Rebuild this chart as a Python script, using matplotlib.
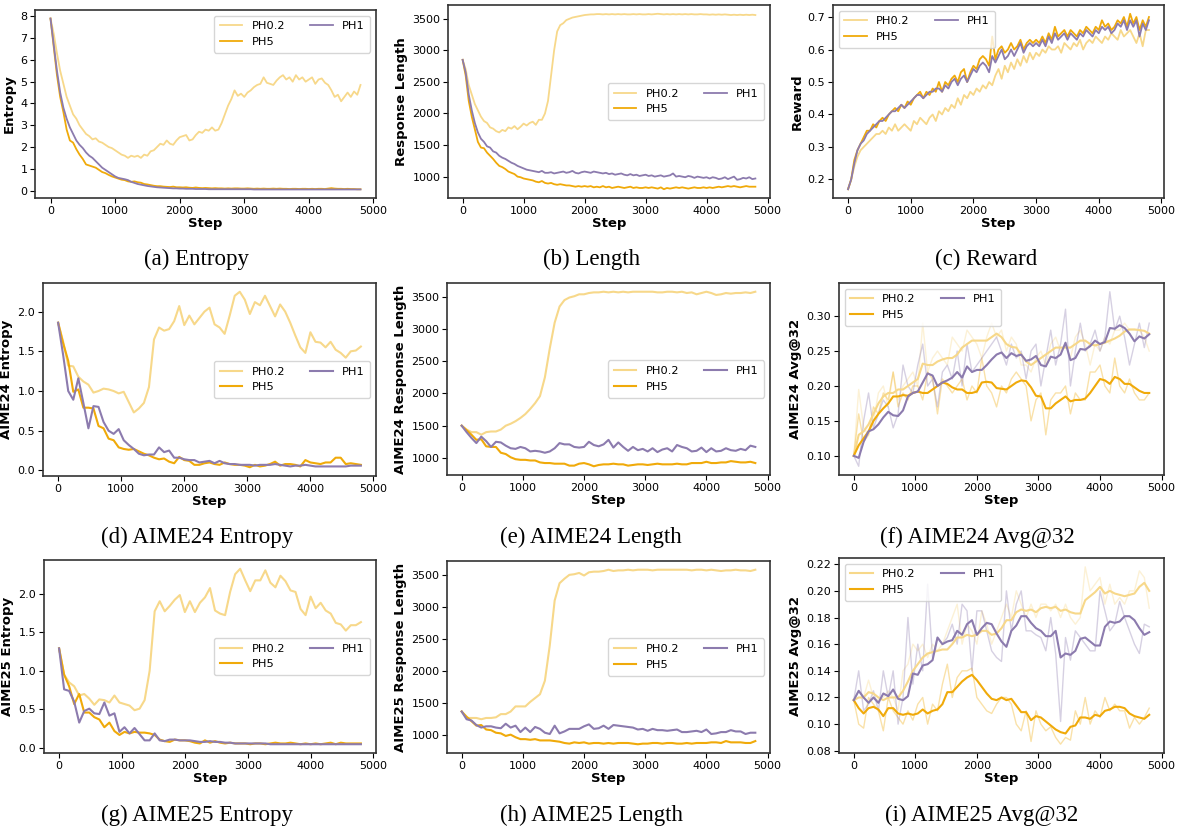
import numpy as np
import matplotlib
matplotlib.use("Agg")
import matplotlib.pyplot as plt

# training curves are logged every 50 steps, eval curves every 80 steps
train_steps = np.arange(0, 4801, 50)
eval_steps = np.arange(0, 4801, 80)

labels = ["PH0.2", "PH5", "PH1"]
colors = ["#F7D88A", "#F0AA0A", "#8C7BAE"]

# (a) Entropy
ent_ph02 = [7.9, 7.2, 6.3, 5.5, 4.9, 4.3, 3.9, 3.5, 3.3, 3.0,
            2.8, 2.6, 2.5, 2.35, 2.4, 2.25, 2.2, 2.1, 2.0, 1.95,
            1.85, 1.75, 1.65, 1.6, 1.5, 1.6, 1.55, 1.6, 1.5, 1.65,
            1.6, 1.8, 1.85, 2.0, 2.15, 2.1, 2.3, 2.15, 2.1, 2.3,
            2.45, 2.5, 2.55, 2.3, 2.35, 2.55, 2.7, 2.65, 2.8, 2.75,
            2.9, 2.75, 2.8, 3.1, 3.5, 3.9, 4.2, 4.6, 4.35, 4.45,
            4.3, 4.5, 4.6, 4.75, 4.85, 4.9, 5.2, 4.95, 4.9, 4.85,
            5.05, 5.2, 5.3, 5.1, 5.2, 5.0, 5.3, 5.1, 5.2, 5.0,
            5.1, 5.2, 4.9, 5.1, 5.15, 4.95, 4.85, 4.6, 4.3, 4.4,
            4.1, 4.3, 4.5, 4.3, 4.55, 4.4, 4.85]
ent_ph5 = [7.9, 6.6, 5.3, 4.3, 3.6, 2.8, 2.3, 2.2, 1.9, 1.65,
           1.45, 1.2, 1.15, 1.1, 1.05, 0.95, 0.85, 0.8, 0.72, 0.65,
           0.6, 0.55, 0.5, 0.48, 0.42, 0.4, 0.42, 0.38, 0.36, 0.3,
           0.28, 0.25, 0.22, 0.2, 0.2, 0.18, 0.17, 0.16, 0.18, 0.15,
           0.15, 0.14, 0.15, 0.13, 0.12, 0.14, 0.12, 0.11, 0.12, 0.11,
           0.1, 0.11, 0.1, 0.1, 0.09, 0.1, 0.09, 0.1, 0.1, 0.09,
           0.09, 0.1, 0.09, 0.08, 0.09, 0.08, 0.09, 0.08, 0.08, 0.09,
           0.08, 0.09, 0.08, 0.08, 0.07, 0.08, 0.08, 0.07, 0.08, 0.08,
           0.07, 0.08, 0.07, 0.08, 0.08, 0.07, 0.09, 0.11, 0.09, 0.08,
           0.08, 0.07, 0.08, 0.07, 0.07, 0.06, 0.06]
ent_ph1 = [7.9, 6.7, 5.5, 4.5, 3.8, 3.3, 2.9, 2.6, 2.3, 2.1,
           1.95, 1.75, 1.6, 1.5, 1.35, 1.2, 1.05, 0.95, 0.85, 0.75,
           0.65, 0.58, 0.55, 0.52, 0.48, 0.4, 0.35, 0.3, 0.27, 0.24,
           0.21, 0.19, 0.17, 0.15, 0.14, 0.13, 0.12, 0.11, 0.1, 0.1,
           0.09, 0.09, 0.08, 0.08, 0.08, 0.07, 0.07, 0.07, 0.07, 0.06,
           0.06, 0.06, 0.06, 0.06, 0.06, 0.06, 0.06, 0.06, 0.06, 0.06,
           0.06, 0.06, 0.06, 0.05, 0.05, 0.05, 0.05, 0.05, 0.05, 0.05,
           0.05, 0.05, 0.05, 0.05, 0.05, 0.05, 0.05, 0.05, 0.05, 0.05,
           0.05, 0.05, 0.05, 0.05, 0.05, 0.05, 0.05, 0.05, 0.05, 0.05,
           0.05, 0.05, 0.05, 0.05, 0.05, 0.05, 0.05]

# (b) Response length
len_ph02 = [2850, 2700, 2450, 2300, 2150, 2050, 1950, 1880, 1850, 1780,
            1760, 1720, 1700, 1740, 1720, 1780, 1760, 1800, 1750, 1790,
            1840, 1810, 1850, 1870, 1820, 1900, 1900, 2000, 2200, 2600,
            3000, 3300, 3400, 3430, 3480, 3500, 3520, 3530, 3540, 3550,
            3560, 3565, 3570, 3570, 3575, 3575, 3570, 3575, 3570, 3575,
            3570, 3575, 3570, 3575, 3570, 3570, 3575, 3570, 3575, 3570,
            3570, 3575, 3570, 3575, 3580, 3575, 3570, 3575, 3570, 3575,
            3570, 3575, 3570, 3575, 3570, 3575, 3570, 3570, 3575, 3570,
            3570, 3565, 3570, 3565, 3570, 3565, 3570, 3565, 3560, 3565,
            3560, 3565, 3560, 3565, 3560, 3565, 3560]
len_ph5 = [2850, 2600, 2200, 1950, 1750, 1550, 1460, 1450, 1380, 1330,
           1280, 1220, 1170, 1150, 1120, 1080, 1060, 1040, 1000, 990,
           970, 960, 950, 940, 920, 910, 930, 900, 890, 900,
           880, 870, 880, 870, 860, 860, 850, 840, 850, 840,
           850, 840, 850, 830, 840, 830, 850, 830, 840, 820,
           830, 840, 830, 820, 830, 840, 820, 830, 820, 820,
           830, 820, 830, 820, 810, 830, 800, 820, 810, 820,
           830, 820, 830, 820, 810, 820, 830, 820, 820, 830,
           820, 830, 820, 830, 840, 830, 840, 850, 840, 850,
           840, 830, 840, 850, 840, 840, 840]
len_ph1 = [2850, 2650, 2300, 2050, 1850, 1700, 1600, 1550, 1480, 1460,
           1400, 1380, 1330, 1300, 1280, 1250, 1220, 1200, 1170, 1150,
           1130, 1110, 1100, 1090, 1080, 1070, 1090, 1060, 1060, 1070,
           1050, 1060, 1070, 1080, 1060, 1070, 1090, 1060, 1050, 1070,
           1080, 1070, 1060, 1080, 1070, 1060, 1050, 1060, 1040, 1050,
           1030, 1040, 1050, 1030, 1020, 1040, 1020, 1030, 1010, 1020,
           1030, 1010, 1020, 1000, 1010, 1020, 1000, 1010, 1020, 1050,
           1000, 1010, 1000, 990, 1010, 1000, 980, 1000, 990, 980,
           990, 970, 990, 980, 960, 970, 990, 960, 980, 1000,
           950, 960, 980, 970, 990, 960, 970]

# (c) Reward
rew_ph02 = [0.17, 0.2, 0.24, 0.27, 0.29, 0.3, 0.31, 0.32, 0.33, 0.34,
            0.34, 0.35, 0.34, 0.36, 0.35, 0.37, 0.35, 0.36, 0.37, 0.36,
            0.35, 0.38, 0.37, 0.39, 0.38, 0.37, 0.39, 0.4, 0.38, 0.41,
            0.4, 0.42, 0.41, 0.43, 0.42, 0.45, 0.43, 0.46, 0.45, 0.47,
            0.46, 0.48, 0.47, 0.49, 0.48, 0.5, 0.49, 0.52, 0.54, 0.51,
            0.55, 0.53, 0.56, 0.54, 0.57, 0.55, 0.58, 0.56, 0.59, 0.57,
            0.59, 0.58, 0.6, 0.59, 0.61, 0.6, 0.6, 0.61, 0.59, 0.62,
            0.61, 0.6, 0.62, 0.61, 0.63, 0.6, 0.62, 0.63, 0.62, 0.64,
            0.63, 0.62, 0.64, 0.63, 0.65, 0.64, 0.63, 0.66, 0.64, 0.65,
            0.66, 0.64, 0.62, 0.65, 0.61, 0.66, 0.66]
rew_ph5 = [0.17, 0.2, 0.26, 0.29, 0.31, 0.33, 0.35, 0.35, 0.37, 0.36,
           0.38, 0.39, 0.38, 0.4, 0.41, 0.42, 0.41, 0.43, 0.42, 0.44,
           0.43, 0.45, 0.46, 0.47, 0.45, 0.47, 0.46, 0.48, 0.47, 0.5,
           0.47, 0.5, 0.49, 0.51, 0.52, 0.5, 0.53, 0.54, 0.5, 0.53,
           0.55, 0.54, 0.57, 0.58, 0.57, 0.55, 0.64, 0.57, 0.6, 0.61,
           0.59, 0.6, 0.62, 0.6, 0.61, 0.63, 0.6, 0.62, 0.63, 0.62,
           0.63, 0.62, 0.64, 0.62, 0.65, 0.63, 0.67, 0.64, 0.65, 0.66,
           0.64, 0.66, 0.65, 0.64, 0.66, 0.65, 0.67, 0.66, 0.65, 0.67,
           0.66, 0.69, 0.67, 0.68, 0.66, 0.67, 0.69, 0.68, 0.7, 0.67,
           0.71, 0.68, 0.7, 0.66, 0.69, 0.67, 0.7]
rew_ph1 = [0.17, 0.2, 0.25, 0.29, 0.31, 0.32, 0.34, 0.35, 0.36, 0.37,
           0.38, 0.38, 0.39, 0.4, 0.41, 0.41, 0.42, 0.43, 0.42, 0.43,
           0.44, 0.45, 0.46, 0.46, 0.45, 0.46, 0.47, 0.47, 0.48, 0.48,
           0.47, 0.49, 0.48, 0.5, 0.51, 0.49, 0.51, 0.52, 0.5, 0.52,
           0.54, 0.53, 0.55, 0.56, 0.55, 0.53, 0.58, 0.56, 0.58, 0.6,
           0.57, 0.58, 0.6, 0.58, 0.6, 0.62, 0.59, 0.61, 0.62, 0.61,
           0.62, 0.61, 0.63, 0.61, 0.64, 0.62, 0.65, 0.63, 0.64, 0.65,
           0.63, 0.65, 0.64, 0.63, 0.65, 0.64, 0.66, 0.65, 0.64, 0.66,
           0.65, 0.67, 0.66, 0.67, 0.65, 0.66, 0.68, 0.67, 0.69, 0.66,
           0.69, 0.67, 0.69, 0.64, 0.68, 0.66, 0.69]

# (d) AIME24 entropy
a24_ent_ph02 = [1.86, 1.62, 1.32, 1.31, 1.18, 1.12, 1.08, 0.98, 1.00, 1.03,
                1.02, 1.00, 0.97, 0.99, 0.86, 0.73, 0.78, 0.85, 1.05, 1.65,
                1.80, 1.76, 1.78, 1.88, 2.07, 1.83, 1.95, 1.84, 1.92, 2.00,
                2.05, 1.84, 1.80, 1.72, 1.95, 2.20, 2.25, 2.15, 1.97, 2.12,
                2.08, 2.20, 2.07, 1.94, 2.09, 2.00, 1.86, 1.70, 1.55, 1.48,
                1.74, 1.62, 1.61, 1.55, 1.62, 1.52, 1.48, 1.42, 1.50, 1.51,
                1.56]
a24_ent_ph5 = [1.86, 1.60, 1.38, 0.99, 1.02, 0.79, 0.79, 0.78, 0.56, 0.53,
               0.40, 0.38, 0.29, 0.27, 0.26, 0.27, 0.24, 0.21, 0.19, 0.16,
               0.14, 0.15, 0.11, 0.09, 0.17, 0.13, 0.12, 0.07, 0.07, 0.09,
               0.10, 0.08, 0.07, 0.10, 0.08, 0.07, 0.07, 0.06, 0.04, 0.07,
               0.05, 0.06, 0.08, 0.11, 0.06, 0.08, 0.08, 0.07, 0.05, 0.13,
               0.10, 0.09, 0.08, 0.10, 0.10, 0.16, 0.16, 0.08, 0.09, 0.08,
               0.07]
a24_ent_ph1 = [1.86, 1.45, 1.00, 0.89, 1.16, 0.85, 0.53, 0.81, 0.80, 0.61,
               0.50, 0.46, 0.52, 0.38, 0.32, 0.27, 0.21, 0.19, 0.20, 0.20,
               0.29, 0.23, 0.25, 0.16, 0.16, 0.14, 0.13, 0.13, 0.10, 0.11,
               0.12, 0.09, 0.12, 0.09, 0.08, 0.08, 0.07, 0.07, 0.07, 0.06,
               0.07, 0.07, 0.07, 0.08, 0.07, 0.06, 0.05, 0.06, 0.06, 0.07,
               0.06, 0.05, 0.05, 0.05, 0.05, 0.05, 0.05, 0.05, 0.06, 0.06,
               0.06]

# (e) AIME24 response length
a24_len_ph02 = [1500, 1440, 1400, 1400, 1360, 1400, 1410, 1410, 1440, 1500,
                1530, 1570, 1620, 1680, 1760, 1850, 1960, 2250, 2700, 3100,
                3350, 3450, 3490, 3510, 3540, 3540, 3560, 3570, 3570, 3580,
                3570, 3580, 3570, 3580, 3570, 3580, 3580, 3580, 3580, 3580,
                3570, 3570, 3580, 3580, 3570, 3580, 3560, 3570, 3540, 3560,
                3580, 3560, 3530, 3540, 3560, 3550, 3560, 3560, 3570, 3560,
                3580]
a24_len_ph5 = [1500, 1430, 1360, 1280, 1290, 1180, 1170, 1170, 1080, 1060,
               1010, 980, 970, 970, 960, 960, 930, 920, 920, 910,
               910, 910, 880, 880, 910, 920, 900, 870, 890, 900,
               900, 910, 900, 900, 880, 890, 900, 900, 890, 900,
               910, 900, 900, 900, 910, 900, 900, 920, 920, 920,
               940, 920, 920, 930, 930, 950, 940, 930, 930, 940,
               920]
a24_len_ph1 = [1500, 1400, 1310, 1230, 1330, 1260, 1170, 1250, 1240, 1190,
               1150, 1140, 1170, 1150, 1100, 1110, 1100, 1080, 1100, 1150,
               1230, 1210, 1210, 1170, 1160, 1170, 1250, 1200, 1180, 1210,
               1280, 1160, 1240, 1170, 1110, 1170, 1120, 1140, 1100, 1150,
               1090, 1130, 1150, 1100, 1200, 1170, 1150, 1100, 1110, 1160,
               1090, 1150, 1100, 1110, 1150, 1120, 1110, 1140, 1120, 1190,
               1170]

# (f) AIME24 avg@32: raw and smoothed
a24_acc_ph02_raw = [0.10, 0.195, 0.14, 0.13, 0.15, 0.19, 0.2, 0.17, 0.22, 0.18,
                    0.2, 0.21, 0.22, 0.2, 0.29, 0.22, 0.24, 0.25, 0.24, 0.23,
                    0.27, 0.26, 0.25, 0.28, 0.27, 0.26, 0.24, 0.27, 0.29, 0.27,
                    0.28, 0.25, 0.27, 0.26, 0.23, 0.23, 0.22, 0.24, 0.25, 0.23,
                    0.26, 0.27, 0.25, 0.26, 0.24, 0.27, 0.28, 0.26, 0.23, 0.26,
                    0.25, 0.27, 0.26, 0.28, 0.28, 0.29, 0.28, 0.28, 0.28, 0.27,
                    0.25]
a24_acc_ph5_raw = [0.10, 0.16, 0.12, 0.13, 0.17, 0.16, 0.19, 0.18, 0.22, 0.17,
                   0.19, 0.18, 0.2, 0.2, 0.18, 0.22, 0.21, 0.16, 0.21, 0.2,
                   0.19, 0.2, 0.21, 0.18, 0.2, 0.19, 0.24, 0.2, 0.19, 0.17,
                   0.2, 0.19, 0.21, 0.22, 0.21, 0.2, 0.15, 0.18, 0.19, 0.13,
                   0.18, 0.19, 0.19, 0.2, 0.16, 0.19, 0.18, 0.18, 0.22, 0.22,
                   0.23, 0.2, 0.19, 0.24, 0.2, 0.19, 0.21, 0.19, 0.18, 0.18,
                   0.19]
a24_acc_ph1_raw = [0.10, 0.085, 0.15, 0.19, 0.14, 0.16, 0.18, 0.17, 0.14, 0.16,
                   0.23, 0.2, 0.19, 0.23, 0.26, 0.2, 0.21, 0.17, 0.22, 0.23,
                   0.21, 0.25, 0.2, 0.26, 0.22, 0.23, 0.24, 0.25, 0.26, 0.27,
                   0.25, 0.23, 0.26, 0.24, 0.25, 0.21, 0.25, 0.26, 0.2, 0.24,
                   0.28, 0.23, 0.26, 0.31, 0.2, 0.25, 0.29, 0.25, 0.26, 0.28,
                   0.25, 0.27, 0.335, 0.28, 0.3, 0.27, 0.23, 0.26, 0.29, 0.255,
                   0.29]
a24_acc_ph02 = [0.10, 0.13, 0.135, 0.145, 0.16, 0.175, 0.185, 0.19, 0.19, 0.195,
                0.195, 0.2, 0.205, 0.21, 0.232, 0.23, 0.23, 0.235, 0.238, 0.24,
                0.24, 0.245, 0.255, 0.26, 0.265, 0.265, 0.265, 0.265, 0.27, 0.275,
                0.27, 0.26, 0.256, 0.255, 0.245, 0.235, 0.23, 0.235, 0.24, 0.245,
                0.25, 0.255, 0.255, 0.255, 0.255, 0.26, 0.265, 0.265, 0.26, 0.258,
                0.26, 0.262, 0.265, 0.268, 0.272, 0.278, 0.281, 0.281, 0.28, 0.279,
                0.275]
a24_acc_ph5 = [0.10, 0.115, 0.125, 0.135, 0.15, 0.16, 0.168, 0.175, 0.185, 0.185,
               0.187, 0.186, 0.19, 0.192, 0.19, 0.19, 0.195, 0.2, 0.205, 0.203,
               0.198, 0.195, 0.195, 0.19, 0.19, 0.192, 0.205, 0.206, 0.205, 0.197,
               0.196, 0.195, 0.2, 0.205, 0.208, 0.207, 0.198, 0.186, 0.185, 0.168,
               0.168, 0.175, 0.18, 0.185, 0.178, 0.18, 0.18, 0.182, 0.19, 0.2,
               0.21, 0.208, 0.203, 0.213, 0.21, 0.203, 0.203, 0.198, 0.193, 0.19,
               0.19]
a24_acc_ph1 = [0.10, 0.097, 0.12, 0.135, 0.138, 0.145, 0.155, 0.163, 0.158, 0.157,
               0.165, 0.185, 0.19, 0.192, 0.205, 0.218, 0.215, 0.2, 0.205, 0.208,
               0.212, 0.22, 0.212, 0.228, 0.22, 0.223, 0.223, 0.23, 0.238, 0.245,
               0.248, 0.24, 0.247, 0.243, 0.245, 0.236, 0.238, 0.243, 0.23, 0.228,
               0.242, 0.24, 0.245, 0.262, 0.237, 0.24, 0.253, 0.252, 0.257, 0.265,
               0.26, 0.263, 0.283, 0.282, 0.287, 0.283, 0.275, 0.264, 0.271, 0.268,
               0.274]

# (g) AIME25 entropy
a25_ent_ph02 = [1.29, 0.95, 0.85, 0.8, 0.68, 0.7, 0.64, 0.56, 0.63, 0.62,
                0.59, 0.68, 0.59, 0.57, 0.55, 0.49, 0.51, 0.62, 1.0, 1.77,
                1.9, 1.77, 1.84, 1.92, 1.98, 1.76, 1.9, 1.76, 1.88, 1.95,
                2.07, 1.78, 1.74, 1.72, 2.02, 2.25, 2.32, 2.17, 2.03, 2.17,
                2.17, 2.3, 2.14, 2.08, 2.23, 2.16, 2.04, 2.02, 1.8, 1.72,
                1.96, 1.81, 1.88, 1.78, 1.74, 1.62, 1.6, 1.52, 1.59, 1.59,
                1.63]
a25_ent_ph5 = [1.29, 0.95, 0.8, 0.57, 0.7, 0.46, 0.46, 0.4, 0.37, 0.27,
               0.33, 0.22, 0.17, 0.21, 0.19, 0.21, 0.2, 0.2, 0.19, 0.17,
               0.11, 0.09, 0.08, 0.11, 0.1, 0.1, 0.09, 0.07, 0.06, 0.1,
               0.07, 0.09, 0.07, 0.06, 0.07, 0.06, 0.06, 0.06, 0.05, 0.06,
               0.06, 0.05, 0.06, 0.07, 0.06, 0.06, 0.07, 0.06, 0.05, 0.06,
               0.05, 0.06, 0.05, 0.06, 0.07, 0.05, 0.07, 0.06, 0.06, 0.06,
               0.06]
a25_ent_ph1 = [1.29, 0.76, 0.74, 0.6, 0.33, 0.48, 0.51, 0.45, 0.44, 0.59,
               0.42, 0.45, 0.21, 0.27, 0.19, 0.26, 0.18, 0.1, 0.1, 0.19,
               0.1, 0.09, 0.11, 0.11, 0.1, 0.1, 0.1, 0.09, 0.08, 0.08,
               0.09, 0.08, 0.08, 0.07, 0.07, 0.06, 0.06, 0.06, 0.06, 0.06,
               0.06, 0.06, 0.05, 0.05, 0.05, 0.05, 0.05, 0.05, 0.05, 0.05,
               0.05, 0.05, 0.05, 0.05, 0.05, 0.05, 0.05, 0.05, 0.05, 0.05,
               0.05]

# (h) AIME25 response length
a25_len_ph02 = [1370, 1270, 1270, 1270, 1250, 1270, 1270, 1280, 1330, 1330,
                1370, 1450, 1450, 1450, 1520, 1580, 1640, 1850, 2400, 3100,
                3370, 3440, 3500, 3510, 3530, 3490, 3540, 3550, 3550, 3560,
                3580, 3560, 3570, 3570, 3580, 3570, 3580, 3580, 3580, 3570,
                3580, 3580, 3580, 3580, 3580, 3580, 3580, 3570, 3580, 3580,
                3570, 3580, 3570, 3560, 3570, 3570, 3580, 3570, 3570, 3560,
                3580]
a25_len_ph5 = [1370, 1290, 1220, 1150, 1160, 1090, 1080, 1040, 1030, 990,
               1010, 970, 940, 940, 930, 940, 920, 920, 920, 910,
               900, 880, 870, 890, 880, 890, 870, 880, 880, 870,
               880, 870, 880, 880, 880, 870, 860, 870, 870, 880,
               880, 870, 880, 880, 870, 870, 880, 870, 880, 880,
               880, 890, 890, 880, 910, 890, 890, 890, 880, 880,
               910]
a25_len_ph1 = [1370, 1250, 1230, 1160, 1120, 1140, 1140, 1120, 1110, 1180,
               1120, 1150, 1050, 1120, 1050, 1130, 1100, 1040, 1020, 1150,
               1030, 1060, 1100, 1100, 1100, 1140, 1170, 1100, 1110, 1150,
               1100, 1160, 1150, 1140, 1130, 1120, 1090, 1100, 1070, 1100,
               1080, 1080, 1070, 1080, 1090, 1050, 1050, 1060, 1070, 1050,
               1090, 1020, 1030, 1050, 1050, 1080, 1060, 1060, 1020, 1040,
               1040]

# (i) AIME25 avg@32: raw and smoothed
a25_acc_ph02_raw = [0.118, 0.125, 0.12, 0.133, 0.12, 0.118, 0.12, 0.125, 0.12, 0.11,
                    0.14, 0.145, 0.16, 0.155, 0.16, 0.15, 0.16, 0.155, 0.16, 0.17,
                    0.18, 0.19, 0.16, 0.175, 0.17, 0.16, 0.185, 0.175, 0.16, 0.17,
                    0.18, 0.19, 0.18, 0.2, 0.19, 0.18, 0.19, 0.18, 0.19, 0.19,
                    0.185, 0.19, 0.18, 0.19, 0.18, 0.175, 0.18, 0.218, 0.2, 0.205,
                    0.21, 0.19, 0.205, 0.19, 0.195, 0.19, 0.2, 0.2, 0.215, 0.21,
                    0.187]
a25_acc_ph5_raw = [0.118, 0.1, 0.097, 0.12, 0.115, 0.11, 0.095, 0.12, 0.11, 0.105,
                   0.1, 0.11, 0.103, 0.115, 0.12, 0.1, 0.115, 0.11, 0.13, 0.145,
                   0.12, 0.135, 0.14, 0.14, 0.142, 0.12, 0.115, 0.11, 0.108, 0.115,
                   0.12, 0.12, 0.115, 0.1, 0.095, 0.11, 0.087, 0.11, 0.1, 0.095,
                   0.098, 0.09, 0.085, 0.09, 0.088, 0.11, 0.1, 0.12, 0.1, 0.11,
                   0.105, 0.12, 0.11, 0.115, 0.11, 0.11, 0.097, 0.105, 0.1, 0.105,
                   0.112]
a25_acc_ph1_raw = [0.118, 0.14, 0.11, 0.115, 0.125, 0.11, 0.14, 0.12, 0.14, 0.1,
                   0.12, 0.18, 0.13, 0.16, 0.14, 0.205, 0.15, 0.165, 0.16, 0.165,
                   0.175, 0.16, 0.19, 0.185, 0.14, 0.185, 0.185, 0.17, 0.155, 0.15,
                   0.147, 0.2, 0.17, 0.19, 0.2, 0.17, 0.17, 0.167, 0.165, 0.155,
                   0.18, 0.153, 0.102, 0.165, 0.148, 0.17, 0.165, 0.16, 0.155, 0.155,
                   0.2, 0.185, 0.17, 0.175, 0.192, 0.18, 0.17, 0.16, 0.153, 0.175,
                   0.173]
a25_acc_ph02 = [0.118, 0.12, 0.12, 0.124, 0.123, 0.12, 0.118, 0.12, 0.12, 0.12,
                0.125, 0.132, 0.14, 0.145, 0.15, 0.153, 0.154, 0.155, 0.156, 0.156,
                0.16, 0.165, 0.165, 0.167, 0.166, 0.167, 0.17, 0.17, 0.167, 0.168,
                0.172, 0.178, 0.178, 0.184, 0.186, 0.185, 0.186, 0.184, 0.187, 0.188,
                0.187, 0.188, 0.185, 0.186, 0.184, 0.183, 0.183, 0.193, 0.196, 0.199,
                0.203, 0.198, 0.2, 0.198, 0.197, 0.196, 0.197, 0.198, 0.203, 0.206,
                0.2]
a25_acc_ph5 = [0.118, 0.112, 0.108, 0.112, 0.113, 0.111, 0.106, 0.112, 0.112, 0.108,
               0.107, 0.108, 0.107, 0.108, 0.111, 0.108, 0.11, 0.111, 0.115, 0.124,
               0.124, 0.128, 0.132, 0.135, 0.137, 0.133, 0.128, 0.123, 0.119, 0.118,
               0.12, 0.118, 0.119, 0.114, 0.109, 0.109, 0.103, 0.106, 0.105, 0.102,
               0.099, 0.096, 0.094, 0.093, 0.098, 0.099, 0.105, 0.105, 0.104, 0.107,
               0.106, 0.11, 0.111, 0.113, 0.113, 0.112, 0.108, 0.106, 0.105, 0.104,
               0.107]
a25_acc_ph1 = [0.118, 0.125, 0.12, 0.116, 0.12, 0.116, 0.123, 0.121, 0.126, 0.119,
               0.118, 0.121, 0.138, 0.137, 0.144, 0.145, 0.148, 0.165, 0.16, 0.162,
               0.163, 0.17, 0.167, 0.175, 0.178, 0.167, 0.172, 0.176, 0.175, 0.168,
               0.162, 0.158, 0.17, 0.174, 0.181, 0.181, 0.176, 0.172, 0.17, 0.166,
               0.166, 0.17, 0.15, 0.153, 0.152, 0.155, 0.164, 0.165, 0.162, 0.159,
               0.159, 0.173, 0.177, 0.176, 0.177, 0.181, 0.181, 0.178, 0.172, 0.167,
               0.169]

W, H = 1182, 834
fig = plt.figure(figsize=(W / 100, H / 100), dpi=100)


def add_panel(box, x, series, ylabel, caption, cap_xy, legend_loc,
              lw=1.5, raw=None, yticks=None):
    # box = (left, right, top, bottom) in pixels
    l, r, t, b = box
    ax = fig.add_axes([l / W, 1 - b / H, (r - l) / W, (b - t) / H])
    if raw is not None:
        for ys, c in zip(raw, colors):
            ax.plot(x, ys, color=c, lw=1.0, alpha=0.35)
    for ys, c, lab in zip(series, colors, labels):
        ax.plot(x, ys, color=c, lw=lw, label=lab)
    ax.set_xlabel("Step", fontsize=9.5, fontweight="bold", labelpad=1)
    ax.set_ylabel(ylabel, fontsize=9.5, fontweight="bold", labelpad=3)
    ax.set_xticks([0, 1000, 2000, 3000, 4000, 5000])
    if yticks is not None:
        ax.set_yticks(yticks)
    ax.tick_params(labelsize=8, length=3.5, width=0.8, pad=2)
    for s in ax.spines.values():
        s.set_color("#333333")
        s.set_linewidth(1.2)
    ax.legend(loc=legend_loc, ncol=2, fontsize=8.2, framealpha=0.8,
              columnspacing=2.2, handlelength=2.0, borderpad=0.5)
    fig.text(cap_xy[0] / W, 1 - cap_xy[1] / H, caption, ha="center", va="center",
             fontsize=16.5, family=["Liberation Serif", "DejaVu Serif"])
    return ax


add_panel((35, 376, 10, 198), train_steps, [ent_ph02, ent_ph5, ent_ph1],
          "Entropy", "(a) Entropy", (196, 259), "upper right", lw=1.3,
          yticks=range(0, 9))
add_panel((448, 770, 5, 198), train_steps, [len_ph02, len_ph5, len_ph1],
          "Response Length", "(b) Length", (592, 259), "center right", lw=1.3)
add_panel((833, 1164, 5, 198), train_steps, [rew_ph02, rew_ph5, rew_ph1],
          "Reward", "(c) Reward", (986, 259), "upper left", lw=1.3)

add_panel((43, 376, 283, 476), eval_steps, [a24_ent_ph02, a24_ent_ph5, a24_ent_ph1],
          "AIME24 Entropy", "(d) AIME24 Entropy", (197, 537), "center right")
add_panel((447, 770, 283, 475), eval_steps, [a24_len_ph02, a24_len_ph5, a24_len_ph1],
          "AIME24 Response Length", "(e) AIME24 Length", (591, 537), "center right")
add_panel((839, 1164, 283, 475), eval_steps, [a24_acc_ph02, a24_acc_ph5, a24_acc_ph1],
          "AIME24 Avg@32", "(f) AIME24 Avg@32", (977, 537), "upper left",
          raw=[a24_acc_ph02_raw, a24_acc_ph5_raw, a24_acc_ph1_raw])

add_panel((44, 376, 560, 753), eval_steps, [a25_ent_ph02, a25_ent_ph5, a25_ent_ph1],
          "AIME25 Entropy", "(g) AIME25 Entropy", (197, 815), "center right")
add_panel((447, 770, 561, 753), eval_steps, [a25_len_ph02, a25_len_ph5, a25_len_ph1],
          "AIME25 Response Length", "(h) AIME25 Length", (591, 815), "center right")
add_panel((839, 1164, 558, 753), eval_steps, [a25_acc_ph02, a25_acc_ph5, a25_acc_ph1],
          "AIME25 Avg@32", "(i) AIME25 Avg@32", (982, 815), "upper left",
          raw=[a25_acc_ph02_raw, a25_acc_ph5_raw, a25_acc_ph1_raw])

fig.savefig("out.png", dpi=100)
